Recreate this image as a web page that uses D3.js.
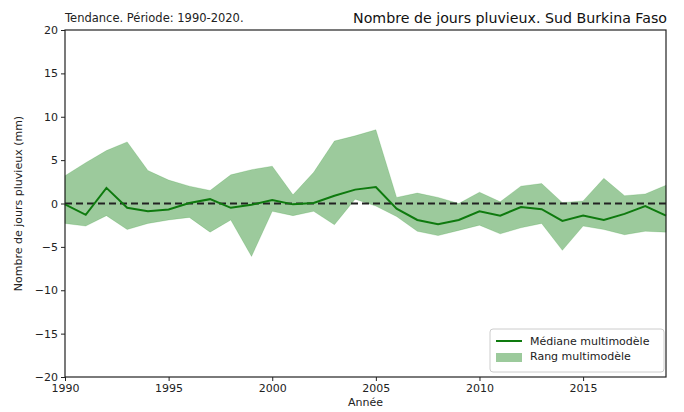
<!DOCTYPE html>
<html><head><meta charset="utf-8">
<script src="https://cdn.jsdelivr.net/npm/d3@7"></script>
<style>body{margin:0;background:#fff}svg{display:block;font-family:"DejaVu Sans",sans-serif}</style>
</head><body><svg id="c" width="684" height="412"></svg>
<script>
const years = d3.range(1990, 2020);
const median = [-0.1,-1.3,1.8,-0.5,-0.9,-0.7,0.05,0.5,-0.5,-0.15,0.4,-0.1,0.05,0.9,1.6,1.9,-0.6,-1.9,-2.4,-1.9,-0.9,-1.4,-0.4,-0.65,-2.0,-1.4,-1.9,-1.2,-0.3,-1.4];
const upper = [3.2,4.7,6.1,7.1,3.8,2.7,2.0,1.5,3.3,3.9,4.3,1.0,3.6,7.2,7.8,8.5,0.7,1.2,0.7,0.0,1.3,0.2,2.0,2.3,0.1,0.3,2.9,0.9,1.1,2.1];
const lower = [-2.3,-2.6,-1.4,-3.0,-2.3,-1.9,-1.6,-3.3,-1.9,-6.1,-0.9,-1.4,-0.9,-2.45,0.5,-0.3,-1.5,-3.2,-3.7,-3.1,-2.5,-3.5,-2.8,-2.3,-5.4,-2.6,-3.0,-3.6,-3.2,-3.3];
const xTicks = [1990,1995,2000,2005,2010,2015];
const yTicks = [-20,-15,-10,-5,0,5,10,15,20];
const title = "Nombre de jours pluvieux. Sud Burkina Faso";
const subtitle = "Tendance. Période: 1990-2020.";
const xLabel = "Année";
const yLabel = "Nombre de jours pluvieux (mm)";
const legendLabels = ["Médiane multimodèle","Rang multimodèle"];

const svg = d3.select("#c");
const m = {l:65, r:666, t:30, b:377};
const x = d3.scaleLinear().domain([1990,2019]).range([m.l,m.r]);
const y = d3.scaleLinear().domain([-20,20]).range([m.b,m.t]);
const data = years.map((yr,i)=>({yr, med:median[i], hi:upper[i], lo:lower[i]}));

svg.append("path").datum(data)
  .attr("d", d3.area().x(d=>x(d.yr)).y0(d=>y(d.lo)).y1(d=>y(d.hi)))
  .attr("fill","#138013").attr("fill-opacity",0.42)
  .attr("stroke","#008000").attr("stroke-opacity",0.15).attr("stroke-width",1);

svg.append("line").attr("x1",m.l).attr("x2",m.r).attr("y1",y(0)).attr("y2",y(0))
  .attr("stroke","#222").attr("stroke-width",1.8).attr("stroke-dasharray","7,4");

svg.append("path").datum(data)
  .attr("d", d3.line().x(d=>x(d.yr)).y(d=>y(d.med)))
  .attr("fill","none").attr("stroke","#0e7a0e").attr("stroke-width",2);

const fmt = d => d<0 ? "\u2212"+Math.abs(d) : String(d);
const xa = svg.append("g").attr("transform",`translate(0,${m.b})`)
  .call(d3.axisBottom(x).tickValues(xTicks).tickFormat(d3.format("d")).tickSize(4).tickPadding(3));
const ya = svg.append("g").attr("transform",`translate(${m.l},0)`)
  .call(d3.axisLeft(y).tickValues(yTicks).tickFormat(fmt).tickSize(4).tickPadding(3));
[xa,ya].forEach(a=>{a.select(".domain").remove();
  a.selectAll("text").attr("font-size",11).attr("fill","#222").attr("font-family","DejaVu Sans");
  a.selectAll("line").attr("stroke","#222");});

svg.append("rect").attr("x",m.l).attr("y",m.t).attr("width",m.r-m.l).attr("height",m.b-m.t)
  .attr("fill","none").attr("stroke","#222").attr("stroke-width",1.2);

svg.append("text").attr("x",m.l).attr("y",22).attr("font-size",11.5).attr("fill","#222").text(subtitle);
svg.append("text").attr("x",m.r+1).attr("y",23).attr("text-anchor","end").attr("font-size",14.2).attr("fill","#111").text(title);
svg.append("text").attr("x",(m.l+m.r)/2).attr("y",406).attr("text-anchor","middle").attr("font-size",11).attr("fill","#222").text(xLabel);
svg.append("text").attr("transform",`translate(22,${(m.t+m.b)/2}) rotate(-90)`).attr("text-anchor","middle")
  .attr("font-size",11).attr("fill","#222").text(yLabel);

const lg = svg.append("g").attr("transform","translate(490,329)");
lg.append("rect").attr("width",174).attr("height",43).attr("rx",3).attr("fill","#fff").attr("fill-opacity",0.85).attr("stroke","#ccc");
lg.append("line").attr("x1",6).attr("x2",32).attr("y1",12).attr("y2",12).attr("stroke","#0e7a0e").attr("stroke-width",2);
lg.append("rect").attr("x",6).attr("y",24).attr("width",26).attr("height",9).attr("fill","#138013").attr("fill-opacity",0.42);
lg.selectAll("text.l").data(legendLabels).join("text").attr("class","l")
  .attr("x",40).attr("y",(d,i)=>16+i*15).attr("font-size",11).attr("fill","#222").text(d=>d);
</script></body></html>
